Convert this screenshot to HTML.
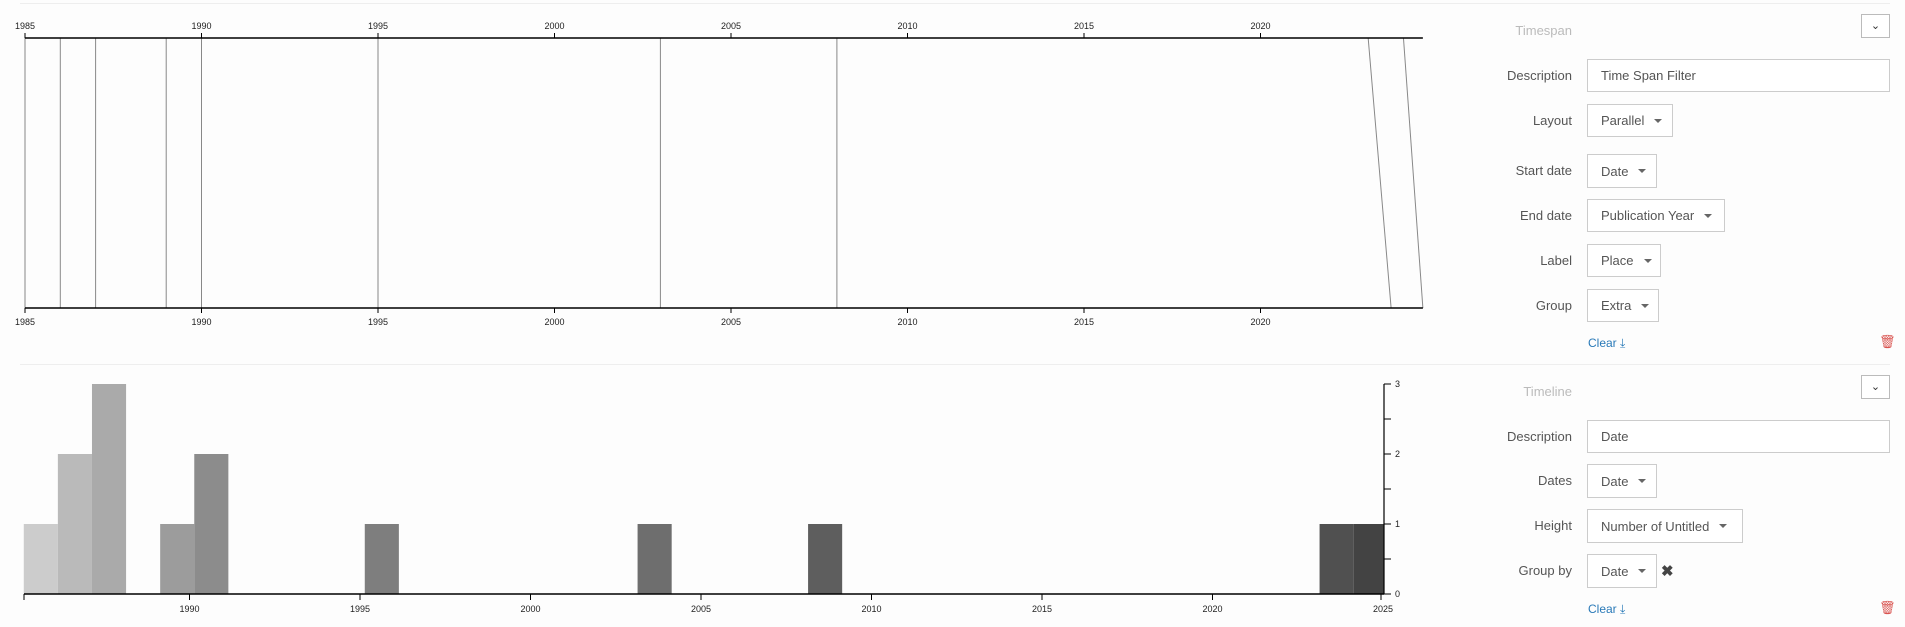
<!DOCTYPE html>
<html><head><meta charset="utf-8">
<style>
body{margin:0;width:1905px;height:627px;background:#fdfdfd;font-family:"Liberation Sans",sans-serif;overflow:hidden;position:relative}
.lbl{position:absolute;width:200px;text-align:right;font-size:13px;color:#555}
.box{position:absolute;border:1px solid #ccc;background:#fff;font-size:13px;color:#555;box-sizing:border-box;padding-left:13px;display:flex;align-items:center}
.car{display:inline-block;width:0;height:0;border-left:4px solid transparent;border-right:4px solid transparent;border-top:4px solid #666;margin-left:10px}
.btn{position:absolute;width:29px;height:24px;border:1px solid #bbb;background:#fff;box-sizing:border-box;font-size:11px;text-align:center;line-height:22px;color:#333}
.clear{position:absolute;font-size:12px;color:#2a7ab8}
.trash{position:absolute;color:#d9534f;font-size:13px}
.hr{position:absolute;left:20px;height:1px;background:#eee}
</style></head><body>
<div class="hr" style="top:3px;width:1870px"></div>
<div class="hr" style="top:364px;width:1870px"></div>
<svg id="top" width="1440" height="360" style="position:absolute;left:0;top:0"></svg>
<svg id="bot" width="1440" height="260" style="position:absolute;left:0;top:364px"></svg>

<div class="lbl" style="left:1372px;top:23px;color:#bbb">Timespan</div>
<div class="btn" style="left:1861px;top:14px">&#8964;</div>
<div class="lbl" style="left:1372px;top:68px">Description</div>
<div class="box" style="left:1587px;top:59px;width:303px;height:33px">Time Span Filter</div>
<div class="lbl" style="left:1372px;top:113px">Layout</div>
<div class="box" style="left:1587px;top:104px;width:86px;height:33px">Parallel<span class="car"></span></div>
<div class="lbl" style="left:1372px;top:163px">Start date</div>
<div class="box" style="left:1587px;top:154px;width:70px;height:34px">Date<span class="car"></span></div>
<div class="lbl" style="left:1372px;top:208px">End date</div>
<div class="box" style="left:1587px;top:199px;width:138px;height:33px">Publication Year<span class="car"></span></div>
<div class="lbl" style="left:1372px;top:253px">Label</div>
<div class="box" style="left:1587px;top:244px;width:74px;height:33px">Place<span class="car"></span></div>
<div class="lbl" style="left:1372px;top:298px">Group</div>
<div class="box" style="left:1587px;top:289px;width:72px;height:33px">Extra<span class="car"></span></div>
<div class="clear" style="left:1588px;top:336px">Clear &#10515;</div>
<div class="trash" style="left:1879px;top:334px">&#128465;</div>

<div class="lbl" style="left:1372px;top:384px;color:#bbb">Timeline</div>
<div class="btn" style="left:1861px;top:375px">&#8964;</div>
<div class="lbl" style="left:1372px;top:429px">Description</div>
<div class="box" style="left:1587px;top:420px;width:303px;height:33px">Date</div>
<div class="lbl" style="left:1372px;top:473px">Dates</div>
<div class="box" style="left:1587px;top:464px;width:70px;height:34px">Date<span class="car"></span></div>
<div class="lbl" style="left:1372px;top:518px">Height</div>
<div class="box" style="left:1587px;top:509px;width:156px;height:34px">Number of Untitled<span class="car"></span></div>
<div class="lbl" style="left:1372px;top:563px">Group by</div>
<div class="box" style="left:1587px;top:554px;width:70px;height:34px">Date<span class="car"></span></div>
<div style="position:absolute;left:1661px;top:562px;font-size:15px;color:#444;font-weight:bold">&#10006;</div>
<div class="clear" style="left:1588px;top:602px">Clear &#10515;</div>
<div class="trash" style="left:1879px;top:600px">&#128465;</div>

<script>
const NS="http://www.w3.org/2000/svg";
const spanStarts=[1985,1986,1987,1989,1990,1995,2003,2008,2023.05,2024.05];
const spanEnds=[1985,1986,1987,1989,1990,1995,2003,2008,2023.7,2024.6];
const spanTicks=[1985,1990,1995,2000,2005,2010,2015,2020];
const barYears=[1985,1986,1987,1989,1990,1995,2003,2008,2023,2024];
const barCounts=[1,2,3,1,2,1,1,1,1,1];
const barColors=["#cccccc","#bababa","#aaaaaa","#9c9c9c","#8c8c8c","#7e7e7e","#6e6e6e","#5e5e5e","#505050","#434343"];
const histTicks=[1990,1995,2000,2005,2010,2015,2020,2025];
const yTicks=[0,1,2,3];

function mk(p,t,a){const e=document.createElementNS(NS,t);for(const k in a)e.setAttribute(k,a[k]);p.appendChild(e);return e;}
const topSvg=document.getElementById('top');
const xs=y=>25+(y-1985)*35.3;
const yT=38,yB=308;
function axis(y,up){
  const l=mk(topSvg,'line',{x1:xs(1985),x2:xs(2024.6),y1:y,y2:y,stroke:'#000','stroke-width':1.5});
  
  
  spanTicks.forEach(t=>{
    mk(topSvg,'line',{x1:xs(t),x2:xs(t),y1:up?y-5:y,y2:up?y:y+5,stroke:'#000'});
    const tx=mk(topSvg,'text',{x:xs(t),y:up?y-9:y+17,'text-anchor':'middle','font-size':9,fill:'#222'});
    tx.textContent=t;
    
    
  });
}
spanStarts.forEach((s,i)=>{
  const l=mk(topSvg,'line',{x1:xs(s),x2:xs(spanEnds[i]),y1:yT,y2:yB,stroke:'#888','stroke-width':1});
  
  
});
axis(yT,true);axis(yB,false);

const botSvg=document.getElementById('bot');
const xb=y=>189.5+(y-1990)*34.1;
const base=230,unit=70,off=0.14;
barYears.forEach((yr,i)=>{
  const x0=xb(yr+off),x1=Math.min(xb(yr+1+off),1384);
  const r=mk(botSvg,'rect',{x:x0,y:base-barCounts[i]*unit,width:x1-x0,height:barCounts[i]*unit,fill:barColors[i]});
  
  
});
const xa=mk(botSvg,'line',{x1:24,x2:1384,y1:base,y2:base,stroke:'#000','stroke-width':1.5});


mk(botSvg,'line',{x1:24,x2:24,y1:base,y2:base+6,stroke:'#000'});
histTicks.forEach(t=>{
  mk(botSvg,'line',{x1:xb(t)-(t==2025?2:0),x2:xb(t)-(t==2025?2:0),y1:base,y2:base+6,stroke:'#000'});
  const tx=mk(botSvg,'text',{x:xb(t),y:base+18,'text-anchor':'middle','font-size':9,fill:'#222'});
  tx.textContent=t;
  
  
});
const ya=mk(botSvg,'line',{x1:1384,x2:1384,y1:base-3*unit,y2:base,stroke:'#000','stroke-width':1.2});


for(let v=0;v<=3;v+=0.5){mk(botSvg,'line',{x1:1384,x2:1391,y1:base-v*unit,y2:base-v*unit,stroke:'#000'});}
yTicks.forEach(v=>{
  const tx=mk(botSvg,'text',{x:1395,y:base-v*unit+3,'font-size':9,fill:'#222'});
  tx.textContent=v;
  
  
});
</script>
</body></html>
